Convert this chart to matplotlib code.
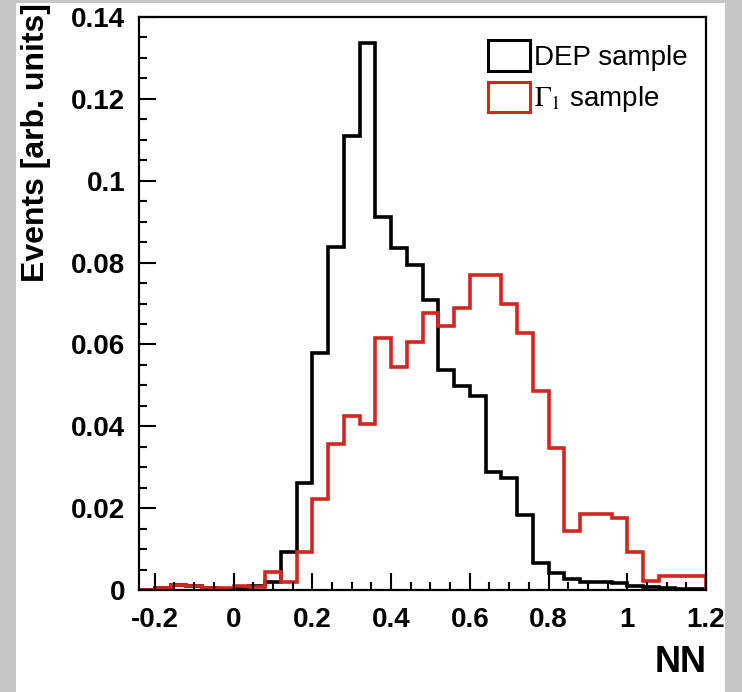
import numpy as np
import matplotlib
matplotlib.use("Agg")
import matplotlib.pyplot as plt
from matplotlib.patches import Patch, Rectangle
from matplotlib.ticker import MultipleLocator

# bin edges of the NN output histogram (width 0.04)
edges = np.round(np.arange(-0.24, 1.2001, 0.04), 2)

# DEP sample (black)
dep_values = [0.0, 0.0005, 0.0012, 0.0010, 0.0005, 0.0003, 0.0005, 0.0010, 0.0020,
              0.0094, 0.0261, 0.0578, 0.0839, 0.1110, 0.1336, 0.0911, 0.0835, 0.0794,
              0.0709, 0.0538, 0.0498, 0.0475, 0.0289, 0.0274, 0.0183, 0.0065, 0.0042,
              0.0028, 0.0020, 0.0019, 0.0016, 0.0010, 0.0008, 0.0005, 0.0003, 0.0002]

# Gamma_1 sample (red)
gamma_values = [0.0, 0.0005, 0.0012, 0.0010, 0.0005, 0.0005, 0.0010, 0.0008, 0.0043,
                0.0020, 0.0092, 0.0222, 0.0356, 0.0426, 0.0406, 0.0616, 0.0546, 0.0607,
                0.0678, 0.0646, 0.0688, 0.0770, 0.0770, 0.0700, 0.0629, 0.0486, 0.0346,
                0.0143, 0.0185, 0.0185, 0.0175, 0.0092, 0.0022, 0.0033, 0.0033, 0.0033]

red = "#d2261e"
plt.rcParams["font.family"] = ["Liberation Sans", "DejaVu Sans"]
plt.rcParams["mathtext.fontset"] = "stix"

fig = plt.figure(figsize=(7.42, 6.92), dpi=100, facecolor="#c6c6c6")
# white canvas inside the grey frame
fig.add_artist(Rectangle((16 / 742, 0), (725 - 16) / 742, 1 - 3 / 692,
                         transform=fig.transFigure, facecolor="white",
                         edgecolor="none", zorder=-10))

ax = fig.add_axes([139 / 742, 1 - 590 / 692, (706 - 139) / 742, (590 - 17) / 692])
ax.set_zorder(1)

ax.stairs(dep_values, edges, color="black", linewidth=2.6)
ax.stairs(gamma_values, edges, color=red, linewidth=2.6)

ax.set_xlim(-0.24, 1.2)
ax.set_ylim(0, 0.14)

ax.xaxis.set_minor_locator(MultipleLocator(0.05))
ax.yaxis.set_minor_locator(MultipleLocator(0.005))
ax.set_xticks([-0.2, 0, 0.2, 0.4, 0.6, 0.8, 1.0, 1.2])
ax.set_xticklabels(["-0.2", "0", "0.2", "0.4", "0.6", "0.8", "1", "1.2"])
ax.set_yticks([0, 0.02, 0.04, 0.06, 0.08, 0.1, 0.12, 0.14])
ax.set_yticklabels(["0", "0.02", "0.04", "0.06", "0.08", "0.1", "0.12", "0.14"])

ax.tick_params(which="both", direction="in", top=False, right=False, width=1.5)
ax.tick_params(which="major", length=12, labelsize=20)
ax.tick_params(axis="x", which="major", pad=12)
ax.tick_params(axis="y", which="major", pad=10)
ax.tick_params(which="minor", length=6)
for lab in ax.get_xticklabels() + ax.get_yticklabels():
    lab.set_fontweight("bold")
for sp in ax.spines.values():
    sp.set_linewidth(1.6)

fig.text(36 / 742, 1 - 3 / 692, "Events [arb. units]", rotation=90,
         ha="center", va="top", fontsize=23, fontweight="bold")
fig.text(707 / 742, 1 - 680 / 692, "NN", ha="right", va="bottom",
         fontsize=26, fontweight="bold")

handles = [Patch(facecolor="none", edgecolor="black", linewidth=2.2),
           Patch(facecolor="none", edgecolor=red, linewidth=2.2)]
ax.legend(handles, ["DEP sample", r"$\Gamma_1$ sample"], loc="upper right",
          bbox_to_anchor=(1.012, 1.003), frameon=False, fontsize=20,
          handlelength=1.5, handleheight=1.3, handletextpad=0.15,
          labelspacing=0.4, borderpad=0.4)

fig.savefig("out.png", dpi=100, facecolor=fig.get_facecolor())
